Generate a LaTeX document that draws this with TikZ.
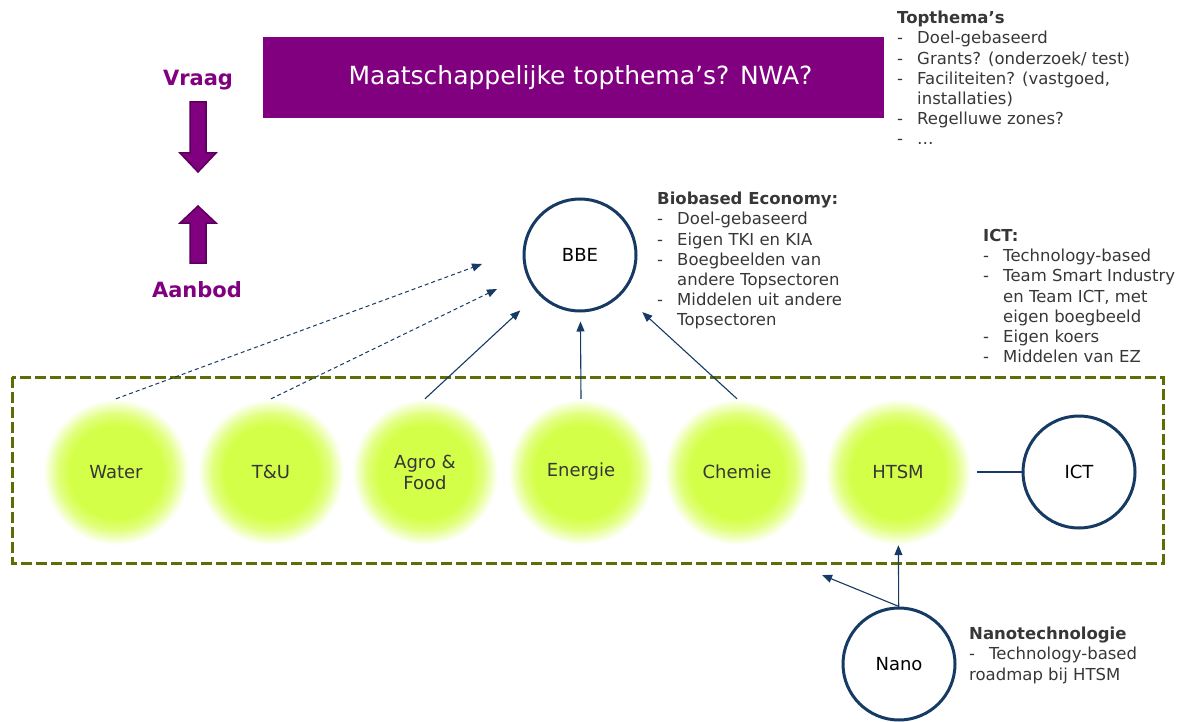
\documentclass[tikz,border=0pt]{standalone}
\usepackage{fontspec}
\setmainfont{DejaVu Sans}
\usetikzlibrary{arrows.meta}
\definecolor{topicpurple}{RGB}{128,0,128}
\definecolor{darkpurple}{RGB}{90,0,90}
\definecolor{linkblue}{RGB}{22,58,100}
\definecolor{framegreen}{RGB}{94,110,6}
\definecolor{glowgreen}{RGB}{212,255,72}
\definecolor{textgray}{RGB}{55,55,55}
\pgfdeclareradialshading{sectorglow}{\pgfpoint{0bp}{0bp}}{color(0bp)=(glowgreen); color(16bp)=(glowgreen); color(20bp)=(glowgreen!70!white); color(25bp)=(white); color(50bp)=(white)}
\newcommand\notefont{\fontsize{16.5}{20.2}\selectfont}
\newcommand\circlefont{\fontsize{18}{21}\selectfont}
\newcommand\itm{\makebox[20pt][l]{-}}
\newcommand\notind{\hspace*{20pt}}
\tikzstyle{sector}=[circle,minimum size=146pt,inner sep=0pt,shade,shading=sectorglow,font=\circlefont,text=textgray,align=center]
\tikzstyle{topsector}=[circle,draw=linkblue,line width=3pt,minimum size=112pt,inner sep=0pt,font=\circlefont,text=black]
\tikzstyle{link}=[draw=linkblue,line width=1.1pt,-{Triangle[length=10pt,width=8pt]}]
\tikzstyle{maybe}=[link,line width=1pt,dash pattern=on 4pt off 3pt]
\tikzstyle{notes}=[anchor=north west,inner sep=0pt,align=left,font=\notefont,text=textgray]
\tikzstyle{bigarrow}=[fill=topicpurple,draw=darkpurple,line width=1.5pt]
\tikzstyle{axis}=[text=topicpurple,font=\fontsize{21}{24}\selectfont\bfseries]

\begin{document}
\begin{tikzpicture}[x=1pt,y=-1pt]
\useasboundingbox (0,0) rectangle (1190,722);
% vraag en aanbod
\node[fill=topicpurple,minimum width=621pt,minimum height=81pt,text=white,font=\fontsize{25}{28}\selectfont] (question) at (573.5,77.5) {\hspace*{14pt}Maatschappelijke topthema’s? NWA?};
\node[axis] (vraag) at (198,80) {Vraag};
\node[axis] (aanbod) at (197,290) {Aanbod};
\draw[bigarrow] (190,102) -- (206,102) -- (206,153) -- (216,153) -- (198,172) -- (180,153) -- (190,153) -- cycle;
\draw[bigarrow] (190,263) -- (206,263) -- (206,223) -- (216,223) -- (198,206) -- (180,223) -- (190,223) -- cycle;
% topsectoren
\draw[draw=framegreen,line width=3pt,dash pattern=on 11pt off 4pt] (12,377) rectangle (1163,563);
\node[sector] (water) at (116,472) {Water};
\node[sector] (tu) at (271,472) {T\&U};
\node[sector] (agro) at (425,472) {Agro \&\\Food};
\node[sector] (energie) at (581,472) {Energie};
\node[sector] (chemie) at (737,472) {Chemie};
\node[sector] (htsm) at (898,472) {HTSM};
\node[topsector] (bbe) at (580,255) {BBE};
\node[topsector] (ict) at (1079,472) {ICT};
\node[topsector] (nano) at (899,664) {Nano};
\coordinate (watertip) at (482,264);
\coordinate (tutip) at (497,289);
\coordinate (nanotip) at (822,575);
% verbindingen
\draw[maybe] (water.north) -- (watertip);
\draw[maybe] (tu.north) -- (tutip);
\draw[link,shorten >=24pt] (agro.north) -- (bbe);
\draw[link,shorten >=9pt] (energie.north) -- (bbe);
\draw[link,shorten >=27pt] (chemie.north) -- (bbe);
\draw[draw=linkblue,line width=1.1pt,shorten <=6pt] (htsm) -- (ict);
\draw[link] (nano) -- (htsm);
\draw[link] (nano.north) -- (nanotip);
% toelichting
\node[notes] (topnotes) at (897,11) {\textbf{Topthema’s}\\\itm Doel-gebaseerd\\\itm Grants? (onderzoek/ test)\\\itm Faciliteiten? (vastgoed,\\\notind installaties)\\\itm Regelluwe zones?\\\itm …};
\node[notes] (bbenotes) at (657,192) {\textbf{Biobased Economy:}\\\itm Doel-gebaseerd\\\itm Eigen TKI en KIA\\\itm Boegbeelden van\\\notind andere Topsectoren\\\itm Middelen uit andere\\\notind Topsectoren};
\node[notes] (ictnotes) at (983,229) {\textbf{ICT:}\\\itm Technology-based\\\itm Team Smart Industry\\\notind en Team ICT, met\\\notind eigen boegbeeld\\\itm Eigen koers\\\itm Middelen van EZ};
\node[notes] (nanonotes) at (969,627) {\textbf{Nanotechnologie}\\-\hspace*{14pt}Technology-based\\roadmap bij HTSM};
\end{tikzpicture}
\end{document}
